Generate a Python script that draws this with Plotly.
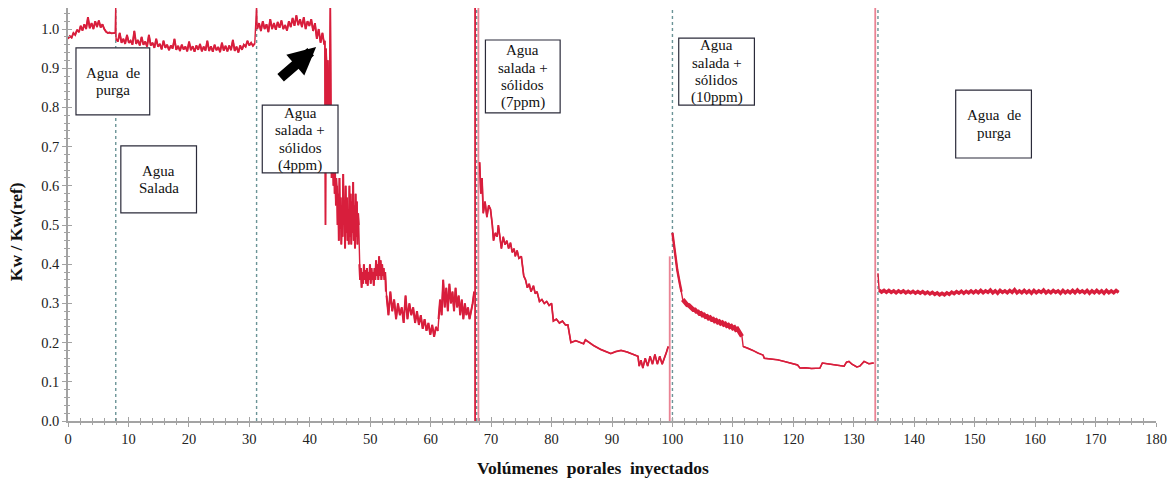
import numpy as np
import plotly.graph_objects as go

# ---------------------------------------------------------------
# Kw / Kw(ref) readings against injected pore volumes (PV)
# Each noisy block is sampled at evenly spaced PV between its ends.
# ---------------------------------------------------------------

# Stage 1 - purge water (0 - 7.8 PV)
purge_a_pv = (0.0, 7.8)
purge_a = [0.975, 0.982, 0.978, 0.99, 0.985, 0.998, 0.992, 1.008, 0.996, 1.012,
           1.0, 1.03, 1.002, 1.015, 1.0, 1.02, 1.005, 1.022, 1.004, 1.012,
           1.0, 0.993, 0.99, 0.991, 0.989, 0.99, 0.99]

# Stage 2 - brine (7.95 - 30.9 PV)
brine_pv = (7.95, 30.9)
brine = [0.975, 0.968, 0.99, 0.965, 0.975, 0.962, 0.985, 0.965, 0.97, 0.96,
         0.995, 0.962, 0.972, 0.958, 0.98, 0.96, 0.968, 0.955, 0.985, 0.958,
         0.965, 0.952, 0.975, 0.955, 0.962, 0.948, 0.97, 0.952, 0.96, 0.946,
         0.958, 0.95, 0.975, 0.947, 0.957, 0.944, 0.96, 0.948, 0.955, 0.943,
         0.968, 0.946, 0.956, 0.942, 0.958, 0.947, 0.962, 0.943, 0.955, 0.945,
         0.97, 0.944, 0.956, 0.942, 0.96, 0.946, 0.954, 0.941, 0.965, 0.945,
         0.957, 0.943, 0.958, 0.946, 0.972, 0.944, 0.955, 0.94, 0.958, 0.947,
         0.96, 0.955, 0.97, 0.958, 0.965, 0.957, 0.963]

# Stage 3 - brine + solids 4 ppm
sol4_a_pv = (31.3, 42.4)
sol4_a = [1.0, 1.015, 0.995, 1.02, 1.0, 1.012, 0.992, 1.025, 1.0, 1.015,
          0.998, 1.018, 1.003, 1.022, 1.0, 1.01, 0.996, 1.02, 1.005, 1.028,
          1.008, 1.035, 1.01, 1.025, 1.005, 1.03, 1.0, 1.02, 1.008, 1.025,
          0.995, 1.015, 0.975, 1.0, 0.965, 0.99, 0.96]
sol4_b_pv = (42.5, 44.4)
sol4_b = [0.97, 0.5, 0.95, 0.9, 0.7, 0.92, 0.85, 0.65, 0.88, 1.06,
          0.8, 0.62, 0.78, 0.7, 0.6, 0.72, 0.58, 0.65, 0.55, 0.62]
sol4_c_pv = (44.5, 48.1)
sol4_c = [0.6, 0.5, 0.58, 0.46, 0.62, 0.49, 0.57, 0.45, 0.55, 0.47,
          0.63, 0.5, 0.56, 0.44, 0.6, 0.48, 0.57, 0.46, 0.54, 0.45,
          0.6, 0.47, 0.58, 0.45, 0.56, 0.48, 0.61, 0.46, 0.55, 0.44,
          0.58, 0.47, 0.56, 0.45, 0.53, 0.5]
sol4_d_pv = (48.2, 52.6)
sol4_d = [0.4, 0.36, 0.39, 0.34, 0.38, 0.35, 0.4, 0.36, 0.385, 0.35,
          0.39, 0.345, 0.38, 0.36, 0.4, 0.35, 0.39, 0.36, 0.38, 0.345,
          0.39, 0.36, 0.41, 0.37, 0.4, 0.36, 0.42, 0.37, 0.41, 0.36,
          0.4, 0.37, 0.39, 0.36, 0.38, 0.33]
sol4_e_pv = (52.7, 61.2)
sol4_e = [0.32, 0.27, 0.33, 0.28, 0.31, 0.26, 0.3, 0.27, 0.29, 0.25,
          0.32, 0.26, 0.3, 0.27, 0.29, 0.25, 0.28, 0.245, 0.27, 0.235,
          0.26, 0.23, 0.25, 0.22, 0.245, 0.215, 0.24, 0.23]
sol4_f_pv = (61.3, 67.2)
sol4_f = [0.26, 0.31, 0.27, 0.36, 0.29, 0.34, 0.28, 0.35, 0.3, 0.33,
          0.28, 0.34, 0.29, 0.32, 0.27, 0.31, 0.26, 0.3, 0.27, 0.29,
          0.26, 0.28, 0.3, 0.33]

# Stage 4 - brine + solids 7 ppm (PV, Kw/Kw(ref))
sol7_pv = [68.1, 68.3, 68.5, 68.7, 69.0, 69.3, 69.6, 69.9, 70.2, 70.4,
           70.7, 71.0, 71.2, 71.5, 71.7, 72.0, 72.3, 72.6, 72.9, 73.2,
           73.5, 73.8, 74.0, 74.3, 74.6, 75.0, 75.2, 75.4, 75.7, 76.0,
           76.3, 76.6, 77.0, 77.3, 77.6, 78.0, 78.4, 78.8, 79.2, 79.6,
           80.0, 80.3, 80.8, 81.3, 81.8, 82.3, 82.7, 83.0, 83.2, 84.0,
           84.8, 85.3, 85.6, 86.2, 87.0, 88.2, 89.0, 89.8, 90.6, 91.5,
           92.5, 93.5, 94.3, 94.5, 94.8, 95.1, 95.5, 95.9, 96.3, 96.7,
           97.1, 97.5, 97.9, 98.3, 98.7, 99.0, 99.3]
sol7 = [0.66, 0.58, 0.62, 0.53, 0.56, 0.52, 0.55, 0.54, 0.50, 0.46,
        0.48, 0.47, 0.50, 0.46, 0.44, 0.47, 0.45, 0.46, 0.44, 0.455,
        0.43, 0.44, 0.42, 0.435, 0.415, 0.42, 0.39, 0.37, 0.36, 0.34,
        0.35, 0.33, 0.345, 0.325, 0.33, 0.305, 0.31, 0.30, 0.305, 0.295,
        0.30, 0.255, 0.26, 0.25, 0.255, 0.245, 0.245, 0.22, 0.20, 0.205,
        0.20, 0.197, 0.207, 0.20, 0.192, 0.182, 0.177, 0.172, 0.177, 0.18,
        0.176, 0.17, 0.165, 0.14, 0.155, 0.135, 0.16, 0.14, 0.165, 0.145,
        0.17, 0.145, 0.165, 0.145, 0.16, 0.175, 0.19]

# Stage 5 - brine + solids 10 ppm
sol10_a_pv = [100.0, 100.3, 100.5, 100.8, 101.2, 101.5]
sol10_a = [0.48, 0.44, 0.42, 0.385, 0.352, 0.33]
sol10_b_pv = (101.7, 111.5)
sol10_b = [0.31, 0.305, 0.301, 0.296, 0.295, 0.29, 0.289, 0.284, 0.284, 0.279,
           0.279, 0.274, 0.275, 0.27, 0.271, 0.266, 0.267, 0.262, 0.264, 0.259,
           0.26, 0.255, 0.257, 0.252, 0.254, 0.249, 0.251, 0.246, 0.248, 0.243,
           0.245, 0.24, 0.242, 0.237, 0.239, 0.233, 0.235, 0.229, 0.226, 0.216]
sol10_c_pv = [111.7, 112.5, 113.3, 114.1, 115.0, 115.2, 116.3, 117.4, 118.5, 119.5,
              120.7, 121.1, 122.0, 123.0, 124.4, 124.8, 126.0, 127.2, 128.4, 128.8,
              129.2, 129.7, 130.5, 131.0, 131.7, 132.5, 133.3]
sol10_c = [0.19, 0.186, 0.18, 0.173, 0.168, 0.16, 0.158, 0.156, 0.152, 0.148,
           0.143, 0.135, 0.136, 0.134, 0.135, 0.148, 0.145, 0.142, 0.14, 0.15,
           0.152, 0.145, 0.138, 0.14, 0.152, 0.146, 0.148]

# Stage 6 - purge water again
purge_b_head_pv = [134.0, 134.1]
purge_b_head = [0.377, 0.334]
purge_b_pv = (134.2, 173.8)
purge_b = [0.334, 0.329, 0.333, 0.328, 0.333, 0.328, 0.332, 0.327, 0.332, 0.328,
           0.332, 0.327, 0.331, 0.327, 0.331, 0.326, 0.330, 0.326, 0.330, 0.325,
           0.329, 0.324, 0.328, 0.323, 0.327, 0.322, 0.326, 0.322, 0.327, 0.323,
           0.329, 0.325, 0.330, 0.326, 0.331, 0.326, 0.331, 0.327, 0.332, 0.327,
           0.332, 0.327, 0.333, 0.327, 0.332, 0.328, 0.334, 0.327, 0.332, 0.326,
           0.333, 0.328, 0.332, 0.327, 0.333, 0.328, 0.335, 0.327, 0.332, 0.327,
           0.333, 0.327, 0.332, 0.326, 0.333, 0.327, 0.332, 0.328, 0.334, 0.327,
           0.332, 0.327, 0.333, 0.328, 0.332, 0.326, 0.333, 0.327, 0.332, 0.327,
           0.333, 0.327, 0.334, 0.328, 0.332, 0.327, 0.333, 0.326, 0.332, 0.327,
           0.333, 0.327, 0.332, 0.326, 0.333, 0.327, 0.332, 0.327, 0.333, 0.328]

# Momentary spikes when the injected fluid was switched (PV, value)
switch_spikes = [(7.9, 1.06), (31.2, 1.06)]

# Stage boundaries (dotted) and pressure-transient traces (solid red)
stage_bounds = [7.9, 31.2, 67.6, 100.0, 134.0]
transients = [(67.35, 1.06), (67.9, 1.06), (99.55, 0.42), (133.55, 1.06)]

# Stage labels, one entry per text line
stage_labels = [["Agua  de", "purga"],
                ["Agua", "Salada"],
                ["Agua", "salada +", "sólidos", "(4ppm)"],
                ["Agua", "salada +", "sólidos", "(7ppm)"],
                ["Agua", "salada +", "sólidos", "(10ppm)"],
                ["Agua  de", "purga"]]

x_ticks = list(range(0, 181, 10))
y_ticks = [round(0.1 * i, 1) for i in range(11)]


def even(block, vals):
    return list(np.linspace(block[0], block[1], len(vals)))


# (pv, value, stroke width) pieces of the continuous record
pieces = [
    (even(purge_a_pv, purge_a), purge_a, 1.9),
    ([switch_spikes[0][0]], [switch_spikes[0][1]], 1.4),
    (even(brine_pv, brine), brine, 1.9),
    ([switch_spikes[1][0]], [switch_spikes[1][1]], 1.4),
    (even(sol4_a_pv, sol4_a), sol4_a, 1.9),
    (even(sol4_b_pv, sol4_b), sol4_b, 1.6),
    (even(sol4_c_pv, sol4_c), sol4_c, 2.0),
    (even(sol4_d_pv, sol4_d), sol4_d, 2.0),
    (even(sol4_e_pv, sol4_e), sol4_e, 2.0),
    (even(sol4_f_pv, sol4_f), sol4_f, 2.0),
    None,
    (sol7_pv, sol7, 1.7),
    None,
    (sol10_a_pv, sol10_a, 2.4),
    (even(sol10_b_pv, sol10_b), sol10_b, 4.4),
    (sol10_c_pv, sol10_c, 1.5),
    None,
    (purge_b_head_pv, purge_b_head, 1.5),
    (even(purge_b_pv, purge_b), purge_b, 3.4),
]

RED = "#d81e3c"
SERIF = "Liberation Serif, Times New Roman, serif"
AXIS_GREY = "#a3a3a3"

xs, ys = [], []
for p in pieces:
    if p is None:
        xs.append(None); ys.append(None)
    else:
        xs += list(p[0]); ys += list(p[1])

fig = go.Figure()
# full record as one continuous line
fig.add_trace(go.Scatter(x=xs, y=ys, mode="lines", connectgaps=False,
                         line=dict(color=RED, width=1.4), hoverinfo="skip",
                         showlegend=False))
# heavier stroke over the noisy stretches
for p in pieces:
    if p is None or len(p[0]) < 3:
        continue
    fig.add_trace(go.Scatter(x=p[0], y=p[1], mode="lines",
                             line=dict(color=RED, width=p[2]), hoverinfo="skip",
                             showlegend=False))
# empty companion trace so the overlay axes (inner tick marks) are drawn
fig.add_trace(go.Scatter(x=[None], y=[None], xaxis="x2", yaxis="y2",
                         showlegend=False, hoverinfo="skip"))

shapes = []
for xb in stage_bounds:
    shapes.append(dict(type="line", xref="x", yref="y", x0=xb, x1=xb, y0=0, y1=1.06,
                       line=dict(color="#6b9497", width=1.4, dash="dot"), layer="below"))
for i, (xt, top) in enumerate(transients):
    col = RED if i == 0 else "rgba(216,30,60,0.55)"
    shapes.append(dict(type="line", xref="x", yref="y", x0=xt, x1=xt, y0=0, y1=top,
                       line=dict(color=col, width=1.8)))

# label boxes (PV range, Kw range)
boxes = [((1.32, 13.52), (0.781, 0.952)),
         ((8.74, 21.26), (0.531, 0.702)),
         ((32.14, 44.67), (0.633, 0.806)),
         ((69.06, 81.42), (0.786, 0.972)),
         ((101.04, 113.56), (0.806, 0.977)),
         ((146.86, 159.39), (0.671, 0.844))]
LINE_STEP = 17.6  # px between label lines
annotations = []
for (bx, by), lines in zip(boxes, stage_labels):
    shapes.append(dict(type="rect", xref="x", yref="y", x0=bx[0], x1=bx[1],
                       y0=by[0], y1=by[1], fillcolor="white",
                       line=dict(color="#2b2b3a", width=1.2), layer="above"))
    mid = (len(lines) - 1) / 2
    for k, line_text in enumerate(lines):
        annotations.append(dict(x=(bx[0] + bx[1]) / 2, y=(by[0] + by[1]) / 2,
                                xref="x", yref="y", text=line_text, showarrow=False,
                                xanchor="center", yanchor="middle",
                                yshift=(mid - k) * LINE_STEP,
                                font=dict(family=SERIF, size=15, color="#111111")))

# arrow marking the onset of the permeability decline
annotations.append(dict(x=41.05, y=0.954, xref="x", yref="y", text="",
                        showarrow=True, ax=-37, ay=32, arrowhead=2,
                        arrowsize=0.55, arrowwidth=10, arrowcolor="#000000"))

# axis titles
title_font = dict(family=SERIF, size=17.5, color="#111111")
annotations.append(dict(x=0.4826, y=-0.1138, xref="paper", yref="paper",
                        text="<b>Volúmenes  porales  inyectados</b>", showarrow=False,
                        xanchor="center", yanchor="middle", font=title_font))
annotations.append(dict(x=-0.0476, y=0.4576, xref="paper", yref="paper",
                        text="<b>Kw / Kw(ref)</b>", showarrow=False, textangle=-90,
                        xanchor="center", yanchor="middle", font=title_font))

tick_font = dict(family=SERIF, size=14.5, color="#222222")
fig.update_layout(
    width=1175, height=482,
    margin=dict(l=68, r=15, t=8, b=61),
    paper_bgcolor="white", plot_bgcolor="white",
    shapes=shapes, annotations=annotations,
    xaxis=dict(range=[0, 180], tickvals=x_ticks, ticks="outside", ticklen=4,
               tickcolor=AXIS_GREY, tickwidth=1, showline=True, linecolor=AXIS_GREY,
               linewidth=1.5, showgrid=False, zeroline=False, tickfont=tick_font,
               minor=dict(dtick=2, ticks="outside", ticklen=2, tickcolor=AXIS_GREY)),
    yaxis=dict(range=[0, 1.0536], tickvals=y_ticks, tickformat=".1f", ticks="outside",
               ticklen=4, tickcolor=AXIS_GREY, tickwidth=1, showline=True,
               linecolor=AXIS_GREY, linewidth=1.5, showgrid=False, zeroline=False,
               tickfont=tick_font,
               minor=dict(dtick=0.02, ticks="outside", ticklen=2, tickcolor=AXIS_GREY)),
    xaxis2=dict(overlaying="x", matches="x", anchor="y2", range=[0, 180],
                tickvals=x_ticks, ticks="inside", ticklen=4, tickcolor=AXIS_GREY,
                showticklabels=False, showline=False, showgrid=False, zeroline=False,
                minor=dict(dtick=2, ticks="inside", ticklen=3, tickcolor=AXIS_GREY)),
    yaxis2=dict(overlaying="y", matches="y", anchor="x2", range=[0, 1.0536],
                tickvals=y_ticks, ticks="inside", ticklen=4, tickcolor=AXIS_GREY,
                showticklabels=False, showline=False, showgrid=False, zeroline=False,
                minor=dict(dtick=0.02, ticks="inside", ticklen=2, tickcolor=AXIS_GREY)),
)

fig.write_html("out.html")
